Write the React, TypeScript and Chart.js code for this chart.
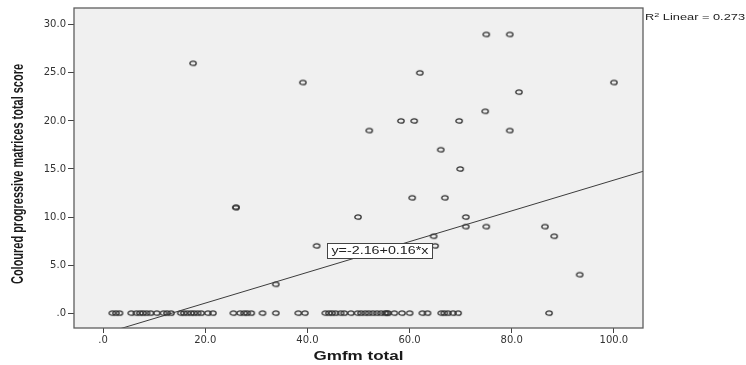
import { useEffect, useRef } from "react";
import { Chart, registerables } from "chart.js";

Chart.register(...registerables);

// Gmfm total (x) and Coloured progressive matrices total score (y)
const gmfmTotal = [
  17.6, 39.1, 75.0, 79.6, 62.0, 81.4, 100.0, 74.8, 58.3, 60.9, 69.7, 52.1, 79.6,
  66.1, 69.9, 60.5, 66.9, 26.0, 26.0, 49.9, 71.0, 71.0, 75.0, 86.5, 64.7, 88.3,
  41.8, 65.0, 93.3, 33.8, 87.3,
  1.8, 2.5, 3.2, 5.5, 6.5, 7.2, 7.8, 8.5, 9.3, 10.5, 11.8, 12.5, 13.3, 15.2,
  15.8, 16.5, 17.2, 17.8, 18.5, 19.2, 20.5, 21.5, 25.5, 26.8, 27.6, 28.2, 29.0,
  31.2, 33.8, 38.2, 39.5, 43.5, 44.2, 44.8, 45.5, 46.5, 47.2, 48.5, 49.8, 50.5,
  51.3, 52.0, 52.8, 53.6, 54.4, 55.2, 55.5, 55.8, 57.0, 58.5, 60.0, 62.5, 63.5,
  66.2, 66.8, 67.5, 68.5, 69.5,
];
const cpmScore = [
  26, 24, 29, 29, 25, 23, 24, 21, 20, 20, 20, 19, 19,
  17, 15, 12, 12, 11, 11, 10, 10, 9, 9, 9, 8, 8,
  7, 7, 4, 3, 0,
  0, 0, 0, 0, 0, 0, 0, 0, 0, 0, 0, 0, 0, 0,
  0, 0, 0, 0, 0, 0, 0, 0, 0, 0, 0, 0, 0,
  0, 0, 0, 0, 0, 0, 0, 0, 0, 0, 0, 0, 0,
  0, 0, 0, 0, 0, 0, 0, 0, 0, 0, 0, 0, 0,
  0, 0, 0, 0, 0,
];

const INTERCEPT = -2.16;
const SLOPE = 0.16;
const R2 = "0.273";
const LABEL_X = 54.2;

const xTickValues = [0, 20, 40, 60, 80, 100];
const yTickValues = [0, 5, 10, 15, 20, 25, 30];
const X_MIN = -5.7;
const X_MAX = 105.7;
const Y_MIN = -1.55;
const Y_MAX = 31.75;

const fmt = (v: number) => {
  const s = Number(v).toFixed(1);
  return s.startsWith("0.") ? s.slice(1) : s;
};

function makeEllipse() {
  const c = document.createElement("canvas");
  c.width = 10;
  c.height = 8;
  const g = c.getContext("2d")!;
  g.strokeStyle = "#333";
  g.lineWidth = 1.3;
  g.beginPath();
  g.ellipse(5, 4, 3.2, 2.2, 0, 0, Math.PI * 2);
  g.stroke();
  return c;
}

function fitText(
  ctx: CanvasRenderingContext2D,
  text: string,
  x: number,
  y: number,
  font: string,
  targetW: number,
  rot = 0
) {
  ctx.save();
  ctx.font = font;
  const w = ctx.measureText(text).width;
  ctx.translate(x, y);
  ctx.rotate(rot);
  ctx.scale(targetW / w, 1);
  ctx.textAlign = "center";
  ctx.textBaseline = "middle";
  ctx.fillText(text, 0, 0);
  ctx.restore();
}

const framePlugin = {
  id: "spssFrame",
  beforeDatasetsDraw(chart: any) {
    const { ctx, chartArea: a } = chart;
    ctx.save();
    ctx.fillStyle = "#f0f0f0";
    ctx.fillRect(a.left, a.top, a.right - a.left, a.bottom - a.top);
    ctx.restore();
  },
  afterDatasetsDraw(chart: any) {
    const { ctx, chartArea: a, scales } = chart;
    ctx.save();
    ctx.strokeStyle = "#5e5e5e";
    ctx.lineWidth = 1.3;
    ctx.strokeRect(a.left, a.top, a.right - a.left, a.bottom - a.top);

    // equation label box
    const cx = scales.x.getPixelForValue(LABEL_X);
    const cy = scales.y.getPixelForValue(INTERCEPT + SLOPE * LABEL_X);
    const bw = 105;
    const bh = 15;
    ctx.fillStyle = "#ffffff";
    ctx.fillRect(cx - bw / 2, cy - bh / 2, bw, bh);
    ctx.strokeStyle = "#444";
    ctx.lineWidth = 1;
    ctx.strokeRect(Math.round(cx - bw / 2) + 0.5, Math.round(cy - bh / 2) + 0.5, bw, bh);
    ctx.fillStyle = "#222";
    fitText(ctx, `y=${INTERCEPT}+${SLOPE}*x`, cx, cy + 0.5, "10px 'Liberation Sans', Arial", 97);
    ctx.restore();
  },
  afterDraw(chart: any) {
    const { ctx, chartArea: a } = chart;
    ctx.save();
    ctx.fillStyle = "#1a1a1a";
    // axis titles
    fitText(
      ctx,
      "Coloured progressive matrices total score",
      19,
      (a.top + a.bottom) / 2 + 6,
      "bold 16px 'Liberation Sans Narrow', 'Liberation Sans', Arial",
      220,
      -Math.PI / 2
    );
    fitText(
      ctx,
      "Gmfm total",
      (a.left + a.right) / 2,
      356,
      "bold 13.5px 'Liberation Sans', Arial",
      90
    );
    // R² label
    const base = a.top + 12;
    const f1 = "8.5px 'Liberation Sans', Arial";
    const f2 = "6px 'Liberation Sans', Arial";
    const rest = ` Linear = ${R2}`;
    ctx.font = f1;
    const wR = ctx.measureText("R").width;
    const wRest = ctx.measureText(rest).width;
    ctx.font = f2;
    const w2 = ctx.measureText("2").width;
    const total = wR + w2 + wRest;
    const sx = 100 / total;
    ctx.translate(a.right + 2, base);
    ctx.scale(sx, 1);
    ctx.textAlign = "left";
    ctx.textBaseline = "alphabetic";
    ctx.font = f1;
    ctx.fillStyle = "#222";
    ctx.fillText("R", 0, 0);
    ctx.font = f2;
    ctx.fillText("2", wR, -3.5);
    ctx.font = f1;
    ctx.fillText(rest, wR + w2, 0);
    ctx.restore();
  },
};

export default function App() {
  const ref = useRef<HTMLCanvasElement | null>(null);

  useEffect(() => {
    if (!ref.current) return;
    const pt = makeEllipse();
    const points = gmfmTotal.map((x, i) => ({ x, y: cpmScore[i] }));
    const fitLine = [
      { x: X_MIN, y: INTERCEPT + SLOPE * X_MIN },
      { x: X_MAX, y: INTERCEPT + SLOPE * X_MAX },
    ];
    const chart = new Chart(ref.current, {
      type: "scatter",
      data: {
        datasets: [
          {
            type: "line",
            data: fitLine,
            borderColor: "#3c3c3c",
            borderWidth: 1,
            pointRadius: 0,
            fill: false,
          } as any,
          {
            data: points,
            pointStyle: pt as any,
            pointRadius: 3,
            pointHoverRadius: 3,
          },
        ],
      },
      options: {
        animation: false,
        responsive: false,
        devicePixelRatio: 1,
        layout: { padding: { top: 6, right: 103, left: 0, bottom: 0 } },
        plugins: { legend: { display: false }, tooltip: { enabled: false } },
        events: [],
        scales: {
          x: {
            type: "linear",
            min: X_MIN,
            max: X_MAX,
            afterFit: (s: any) => {
              s.height = 37;
            },
            afterBuildTicks: (s: any) => {
              s.ticks = xTickValues.map((v) => ({ value: v }));
            },
            border: { display: false },
            grid: {
              drawOnChartArea: false,
              drawTicks: true,
              tickLength: 5,
              color: "#444",
              tickColor: "#444",
            },
            ticks: {
              callback: (v: any) => fmt(v),
              color: "#333",
              font: { family: "'DejaVu Sans'", size: 10 },
              padding: 1,
              maxRotation: 0,
              autoSkip: false,
            },
          },
          y: {
            type: "linear",
            min: Y_MIN,
            max: Y_MAX,
            afterFit: (s: any) => {
              s.width = 74;
            },
            afterBuildTicks: (s: any) => {
              s.ticks = yTickValues.map((v) => ({ value: v }));
            },
            border: { display: false },
            grid: {
              drawOnChartArea: false,
              drawTicks: true,
              tickLength: 6,
              color: "#444",
              tickColor: "#444",
            },
            ticks: {
              callback: (v: any) => fmt(v),
              color: "#333",
              font: { family: "'DejaVu Sans'", size: 10 },
              padding: 2,
              autoSkip: false,
            },
          },
        },
      },
      plugins: [framePlugin],
    });
    return () => chart.destroy();
  }, []);

  return (
    <div style={{ position: "fixed", left: 0, top: 0, width: 746, height: 365, background: "#fff" }}>
      <canvas ref={ref} width={746} height={365} style={{ display: "block" }} />
    </div>
  );
}
